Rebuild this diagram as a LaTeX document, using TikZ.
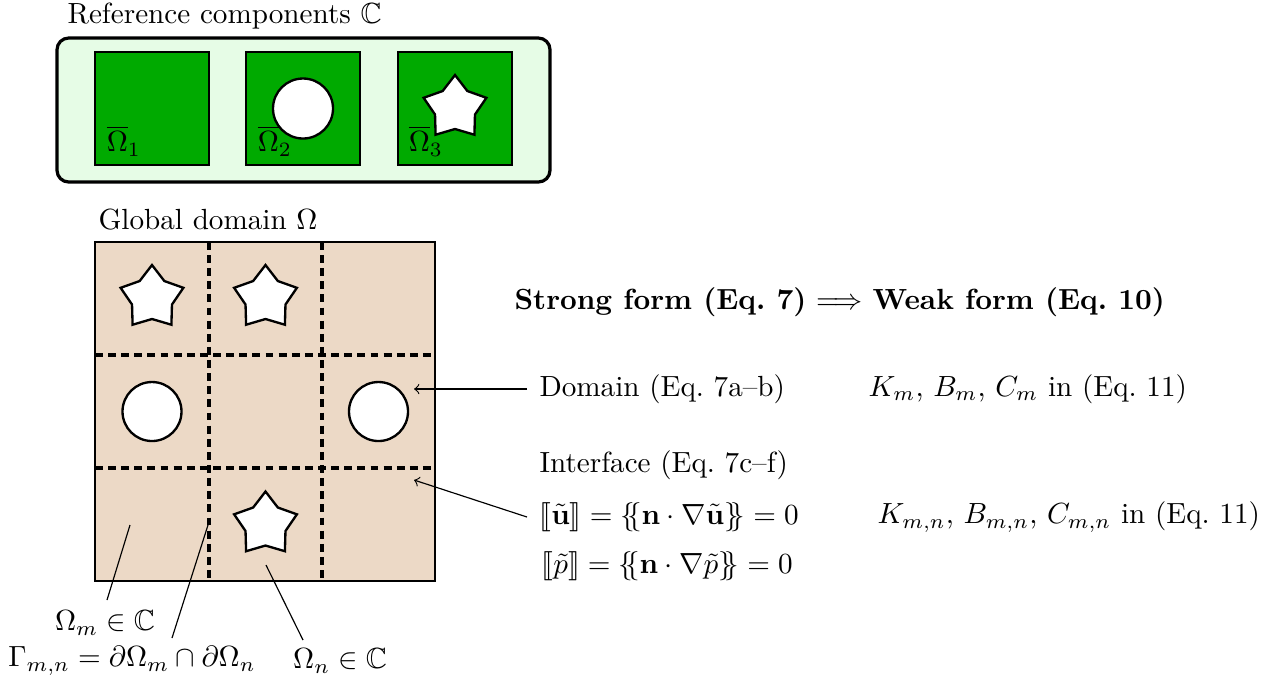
\documentclass[tikz,border=0pt]{standalone}
\usepackage{amsmath,amssymb}
\usepackage{stmaryrd}
\newcommand\drawstarhole[2]{%
  \draw[hole,shift={(#1,#2)}] (-90:33) -- (-54:21) -- (-18:33) -- (18:21) -- (54:33)
    -- (90:21) -- (126:33) -- (162:21) -- (198:33) -- (234:21) -- cycle;}
\begin{document}
\begin{tikzpicture}[x=0.343pt,y=-0.343pt,
  comp/.style={draw=black,thick,fill=compgreen},
  hole/.style={draw=black,thick,fill=white},
  grid/.style={line width=1.1pt,dash pattern=on 2.7pt off 1.8pt},
  lab/.style={inner sep=0pt,anchor=west},
  cen/.style={inner sep=0pt},
  pointer/.style={-to,thin},
  leader/.style={thin}]
\definecolor{compgreen}{RGB}{0,170,0}
\definecolor{boxgreen}{RGB}{230,252,230}
\definecolor{tan}{RGB}{236,217,198}
\useasboundingbox (0,0) rectangle (1287,683);
% reference components
\node[lab] (reftitle) at (67,16) {Reference components $\mathbb{C}$};
\draw[line width=1.1pt,rounded corners=4pt,fill=boxgreen] (57,38) rectangle (550,182);
\draw[comp] (95,52) rectangle (209,165);
\draw[comp] (246,52) rectangle (360,165);
\draw[comp] (398,52) rectangle (512,165);
\draw[hole] (303,108.5) circle[radius=30];
\drawstarhole{455}{108}
\node[cen] (o1) at (124,141) {$\overline{\Omega}_1$};
\node[cen] (o2) at (275,141) {$\overline{\Omega}_2$};
\node[cen] (o3) at (426,141) {$\overline{\Omega}_3$};
% global domain
\node[lab] (globtitle) at (98,220) {Global domain $\Omega$};
\fill[tan] (95,242) rectangle (435,581);
\draw[grid] (209,242) -- (209,581);
\draw[grid] (322,242) -- (322,581);
\draw[grid] (95,355) -- (435,355);
\draw[grid] (95,468) -- (435,468);
\draw[thick] (95,242) rectangle (435,581);
\drawstarhole{152}{298}
\drawstarhole{265.5}{298}
\drawstarhole{265.5}{524.5}
\draw[hole] (152,411.5) circle[radius=29.5];
\draw[hole] (378.5,411.5) circle[radius=29.5];
% text on the right
\node[lab] (head) at (514,302) {\textbf{Strong form (Eq.~7)} $\Longrightarrow$ \textbf{Weak form (Eq.~10)}};
\node[lab] (dom) at (539,389) {Domain (Eq.~7a--b)};
\node[lab] (kdom) at (868,389) {$K_m$, $B_m$, $C_m$ in (Eq.~11)};
\node[lab] (intf) at (539,465) {Interface (Eq.~7c--f)};
\node[lab] (ujump) at (539,517) {$\llbracket\tilde{\mathbf{u}}\rrbracket=\{\mskip-5mu\{\mathbf{n}\cdot\nabla\tilde{\mathbf{u}}\}\mskip-5mu\}=0$};
\node[lab] (pjump) at (541,566) {$\llbracket\tilde{p}\rrbracket=\{\mskip-5mu\{\mathbf{n}\cdot\nabla\tilde{p}\}\mskip-5mu\}=0$};
\node[lab] (kint) at (877,517) {$K_{m,n}$, $B_{m,n}$, $C_{m,n}$ in (Eq.~11)};
\coordinate (domtip) at (414,389);
\coordinate (inttip) at (414,480);
\draw[pointer] (dom.west) ++(-12,0) coordinate (domstart) -- (domtip);
\draw[pointer] (ujump.west) ++(-12,0) coordinate (intstart) -- (inttip);
% bottom labels
\node[cen] (om) at (105,623) {$\Omega_m\in\mathbb{C}$};
\node[cen] (gam) at (132,661) {$\Gamma_{m,n}=\partial\Omega_m\cap\partial\Omega_n$};
\node[cen] (on) at (340,661) {$\Omega_n\in\mathbb{C}$};
\coordinate (pm) at (130,525);
\coordinate (pg) at (208,525);
\coordinate (pn) at (266,565);
\draw[leader] (pm) -- (107,600);
\draw[leader] (pg) -- (172,638);
\draw[leader] (pn) -- (303,640);
\end{tikzpicture}
\end{document}
